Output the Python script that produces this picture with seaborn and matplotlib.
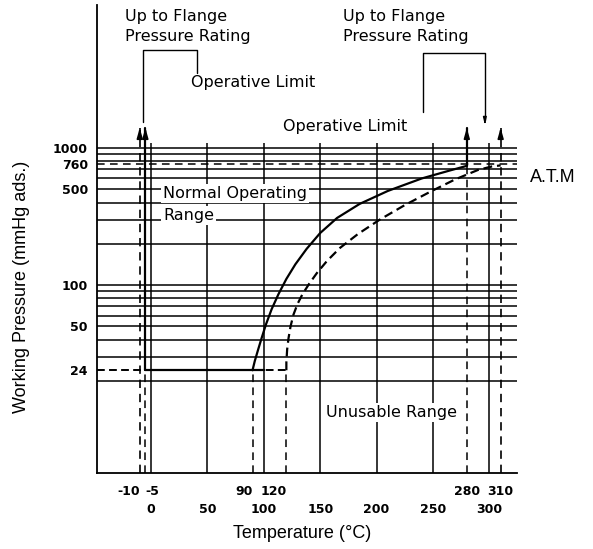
import matplotlib
matplotlib.use("Agg")
import matplotlib.pyplot as plt
import seaborn as sns
from matplotlib.ticker import NullLocator

# ---------------- data ----------------
pressure_grid = [1000, 900, 800, 700, 600, 500, 400, 300, 200, 100,
                 90, 80, 70, 60, 50, 40, 30, 20]
atm_pressure = 760
temperature_grid = [0, 50, 100, 150, 200, 250, 300]
grid_top_pressure = 1080

y_ticks = [1000, 760, 500, 100, 50, 24]
y_tick_labels = ["1000", "760", "500", "100", "50", "24"]
x_major_ticks = [0, 50, 100, 150, 200, 250, 300]
x_major_labels = ["0", "50", "100", "150", "200", "250", "300"]
x_minor_ticks = [-10, -5, 90, 120, 280, 310]
x_minor_labels = ["-10", "-5", "90", "120", "280", "310"]

# Normal operating range boundary (solid curve)
normal_temp = [90, 92, 95, 98, 102, 107, 113, 120, 128, 138, 150, 165, 185, 210, 240, 265, 280]
normal_pres = [24, 28, 34, 41, 52, 67, 86, 111, 142, 184, 240, 309, 391, 486, 599, 685, 740]
# Second boundary (dashed curve)
alt_temp = [120, 120, 120.7, 121.9, 123.7, 126.3, 129.9, 134.3, 140.1, 147.2, 156.0,
            167.6, 183.5, 203.0, 225.2, 247.3, 269.5, 289.9, 302.3, 310]
alt_pres = [24, 27.5, 34, 41, 50, 61, 73, 86, 102, 123, 150,
            187, 236, 301, 384, 478, 589, 691, 733, 746]

min_pressure = 24
limit_pressure = 1400
normal_low_temp = -5
normal_base_temp = 90
normal_base_end = 100
normal_high_temp = 280
alt_low_temp = -10
alt_base_temp = 120
alt_high_temp = 310

# annotation leader brackets
left_bracket_t = [-7.5, -7.5, 41, 41]
left_bracket_p = [1550, 5180, 5180, 3520]
right_bracket_t = [241, 241, 296, 296]
right_bracket_p = [1830, 4920, 4920, 1600]
right_bracket_tip = 1470

# ---------------- style ----------------
sns.set_theme(style="white")
plt.rcParams["font.family"] = ["DejaVu Sans"]
LABEL_FONT = ["Liberation Sans", "DejaVu Sans"]

fig = plt.figure(figsize=(5.93, 5.49), dpi=100, facecolor="white")
ax = fig.add_axes([97 / 593, 76 / 549, 420 / 593, 468 / 549])
ax.set_facecolor("white")
ax.set_yscale("log")
ax.set_xlim(-47.9, 324.5)
ax.set_ylim(4.28, 11000)
ybot = ax.get_ylim()[0]
x_left = ax.get_xlim()[0]

K = "black"
LW_GRID = 1.1
LW_BOUND = 1.6
DASH_THIN = (0, (5, 3.5))
DASH_BOLD = (0, (4, 2.2))

# grid
for p in pressure_grid:
    ax.axhline(p, color=K, lw=LW_GRID, zorder=1)
ax.axhline(atm_pressure, color=K, lw=LW_GRID, ls=DASH_THIN, zorder=1)
ax.vlines(temperature_grid, ybot, grid_top_pressure, color=K, lw=LW_GRID, zorder=1)

# dashed reference lines below the boundaries
ax.vlines([normal_low_temp, normal_base_temp, alt_base_temp], ybot, min_pressure,
          color=K, lw=LW_GRID, linestyles=[DASH_THIN], zorder=1)
ax.vlines([normal_high_temp], ybot, normal_pres[-1], color=K, lw=LW_GRID,
          linestyles=[DASH_THIN], zorder=1)

# dashed boundary
ax.plot([alt_low_temp, alt_low_temp], [ybot, limit_pressure], color=K, lw=1.2, ls=DASH_THIN, zorder=2)
ax.plot([x_left, alt_base_temp], [min_pressure, min_pressure], color=K, lw=1.4, ls=DASH_BOLD, zorder=2)
sns.lineplot(x=alt_temp, y=alt_pres, ax=ax, sort=False, estimator=None,
             color=K, lw=LW_BOUND, linestyle=DASH_BOLD, zorder=2)
ax.plot([alt_high_temp, alt_high_temp], [ybot, limit_pressure], color=K, lw=1.2, ls=DASH_THIN, zorder=2)

# solid boundary (normal operating range)
ax.plot([normal_low_temp, normal_low_temp], [min_pressure, limit_pressure], color=K, lw=LW_BOUND, zorder=3)
ax.plot([normal_low_temp, normal_base_end], [min_pressure, min_pressure], color=K, lw=LW_BOUND, zorder=3)
sns.lineplot(x=normal_temp, y=normal_pres, ax=ax, sort=False, estimator=None,
             color=K, lw=LW_BOUND, zorder=3)
ax.plot([normal_high_temp, normal_high_temp], [normal_pres[-1], limit_pressure], color=K, lw=LW_BOUND, zorder=3)

# arrow heads
for t in [alt_low_temp, normal_low_temp, normal_high_temp, alt_high_temp]:
    ax.annotate("", xy=(t, limit_pressure), xytext=(t, limit_pressure / 1.1),
                arrowprops=dict(arrowstyle="-|>,head_length=0.6,head_width=0.17",
                                color=K, lw=1.2, shrinkA=0, shrinkB=0, mutation_scale=10),
                zorder=4)

# leader brackets
ax.plot(left_bracket_t, left_bracket_p, color=K, lw=1.0, clip_on=False)
ax.plot(right_bracket_t, right_bracket_p, color=K, lw=1.0, clip_on=False)
ax.annotate("", xy=(right_bracket_t[-1], right_bracket_tip),
            xytext=(right_bracket_t[-1], right_bracket_p[-1]),
            arrowprops=dict(arrowstyle="-|>,head_length=0.5,head_width=0.12",
                            color=K, lw=1.0, shrinkA=0, shrinkB=0, mutation_scale=8))

# texts
TXT = dict(fontsize=11.5, color=K, va="baseline")
ax.text(-23, 8430, "Up to Flange", ha="left", **TXT)
ax.text(-23, 6030, "Pressure Rating", ha="left", **TXT)
ax.text(170.2, 8430, "Up to Flange", ha="left", **TXT)
ax.text(170.2, 6030, "Pressure Rating", ha="left", **TXT)
ax.text(90.4, 2790, "Operative Limit", ha="center", **TXT)
ax.text(172, 1330, "Operative Limit", ha="center", **TXT)
box = dict(facecolor="white", edgecolor="none", pad=1.5)
ax.text(10.6, 432, "Normal Operating", ha="left", bbox=box, zorder=6, **TXT)
ax.text(10.6, 299, "Range", ha="left", bbox=box, zorder=6, **TXT)
ax.text(213, 10.9, "Unusable Range", ha="center", bbox=box, zorder=6, **TXT)
ax.text(336, 565, "A.T.M", ha="left", va="baseline", fontsize=13,
        family=LABEL_FONT, color=K, clip_on=False)

# ticks
ax.set_yticks(y_ticks, y_tick_labels)
ax.yaxis.set_minor_locator(NullLocator())
ax.set_xticks(x_major_ticks, x_major_labels)
ax.set_xticks(x_minor_ticks, x_minor_labels, minor=True)
ax.tick_params(axis="both", which="both", length=0, colors=K)
ax.tick_params(axis="y", pad=6.5, labelsize=9)
ax.tick_params(axis="x", which="major", pad=21.6, labelsize=9)
ax.tick_params(axis="x", which="minor", pad=8.3, labelsize=9)
for lab in ax.get_yticklabels() + ax.get_xticklabels() + ax.get_xticklabels(minor=True):
    lab.set_fontweight("bold")
minor_ha = ["right", "left", "right", "right", "center", "center"]
for lab, ha in zip(ax.get_xticklabels(minor=True), minor_ha):
    lab.set_ha(ha)

# spines
for s in ["top", "right"]:
    ax.spines[s].set_visible(False)
for s in ["left", "bottom"]:
    ax.spines[s].set_color(K)
    ax.spines[s].set_linewidth(1.3)

ax.set_xlabel("Temperature (°C)", fontsize=13, family=LABEL_FONT, color=K)
ax.xaxis.set_label_coords(0.488, -0.111)
ax.set_ylabel("Working Pressure (mmHg ads.)", fontsize=13, family=LABEL_FONT, color=K)
ax.yaxis.set_label_coords(-0.160, 0.397)

fig.savefig("out.png", dpi=100, facecolor="white")
